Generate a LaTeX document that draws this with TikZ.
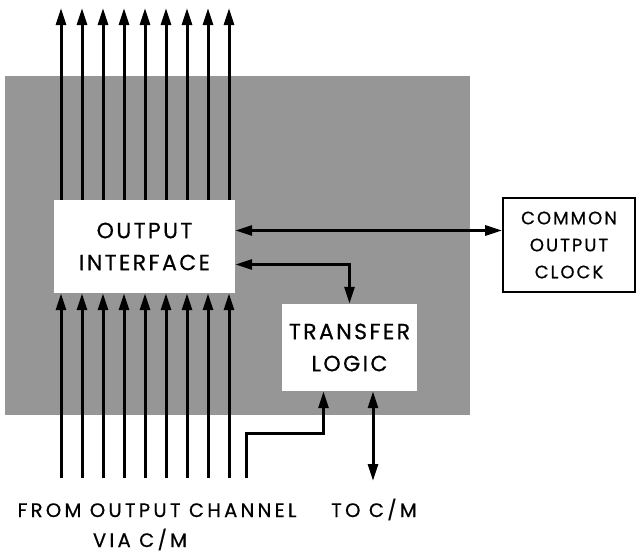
\documentclass[tikz,border=0pt]{standalone}
\usepackage{fontspec}
\newfontfamily\diafont[LetterSpace=11,FakeBold=0.6]{Poppins}
\newfontfamily\lblfont[LetterSpace=17,FakeBold=0.6]{Poppins}
\usetikzlibrary{arrows.meta,positioning,backgrounds}
\definecolor{screen}{RGB}{150,150,150}
\tikzset{
  blk/.style={fill=white,align=center,font=\diafont\fontsize{22}{32}\selectfont,inner sep=0pt},
  clkbox/.style={blk,draw=black,line width=1.6pt,font=\diafont\fontsize{18}{27}\selectfont},
  bus/.style={line width=3pt,-{Triangle[length=17pt,width=10pt]}},
  dbl/.style={line width=3pt,{Triangle[length=17pt,width=10pt]}-{Triangle[length=17pt,width=10pt]}},
  wire/.style={line width=3pt},
  lbl/.style={font=\lblfont\fontsize{19.5}{22}\selectfont,inner sep=0pt,anchor=base},
}
\begin{document}
\begin{tikzpicture}[x=1pt,y=-1pt]
  \useasboundingbox (0,0) rectangle (637,555);
  % shaded board
  \fill[screen] (5,76) rectangle (470,415);
  \node[blk,minimum width=181pt,minimum height=93pt] (oi) at (144.5,246.5) {OUTPUT\\INTERFACE};
  \node[blk,minimum width=135pt,minimum height=87pt] (tl) at (349.5,347.5) {TRANSFER\\LOGIC};
  \node[clkbox,minimum width=132pt,minimum height=94pt] (clk) at (569,245) {COMMON\\OUTPUT\\CLOCK};
  % channel lines
  \foreach \x in {61,82,...,229}{
    \coordinate (up\x) at (\x,8);
    \coordinate (in\x) at (\x,478);
    \draw[bus] (oi.north -| up\x) -- (up\x);
    \draw[bus] (in\x) -- (oi.south -| in\x);
  }
  \coordinate (ctl) at (246,478);
  \draw[wire,-{Triangle[length=17pt,width=10pt]}] (ctl) -- (246,433) -| ([xshift=-26pt]tl.south);
  \coordinate (tocm) at ([xshift=23.5pt]tl.south |- 0,481);
  \draw[dbl] ([xshift=23.5pt]tl.south) -- (tocm);
  \draw[dbl] ([yshift=16pt]oi.east) -- ([yshift=16pt]oi.east -| clk.west);
  \draw[dbl] ([yshift=-18pt]oi.east) -| (tl.north);
  % labels
  \node[lbl] (from) at (157,517) {FROM OUTPUT CHANNEL};
  \node[lbl] (via) at (140,547) {VIA C/M};
  \node[lbl] (to) at (374,517) {TO C/M};
\end{tikzpicture}
\end{document}
